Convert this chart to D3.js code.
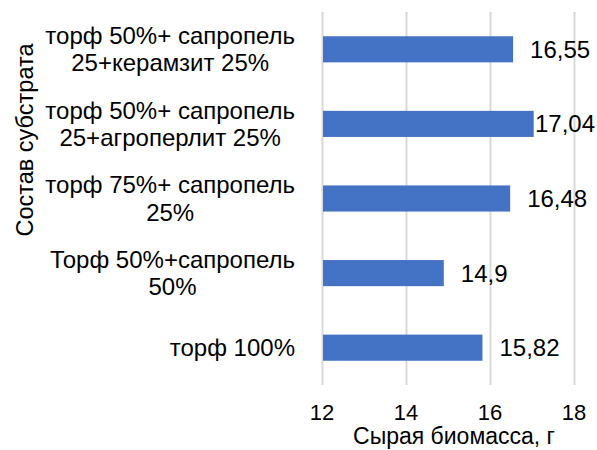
<!DOCTYPE html>
<html>
<head>
<meta charset="utf-8">
<script src="https://cdn.jsdelivr.net/npm/d3@7"></script>
<style>
  body { margin: 0; background: #fff; }
  svg { display: block; font-family: "Liberation Sans", Arial, sans-serif; }
</style>
</head>
<body>
<svg id="chart" width="597" height="450"></svg>
<script>
// categories top to bottom, each label split into lines
const categories = [
  ["торф 50%+ сапропель", "25+керамзит 25%"],
  ["торф 50%+ сапропель", "25+агроперлит 25%"],
  ["торф 75%+ сапропель", "25%"],
  ["Торф 50%+сапропель", "50%"],
  ["торф 100%"]
];
const values = [16.55, 17.04, 16.48, 14.9, 15.82];
const valueLabels = ["16,55", "17,04", "16,48", "14,9", "15,82"];
const xTicks = [12, 14, 16, 18];
const xTitle = "Сырая биомасса, г";
const yTitle = "Состав субстрата";

const svg = d3.select("#chart");
const W = 597;
const plotLeft = 322, plotRight = 574, plotTop = 12, plotBottom = 385;

const x = d3.scaleLinear().domain([12, 18]).range([plotLeft, plotRight]);
const y = d3.scaleBand()
  .domain(d3.range(categories.length))
  .range([plotTop, plotBottom])
  .paddingInner(0.65)
  .paddingOuter(0.325);

// gridlines
svg.append("g")
  .attr("transform", "translate(0," + plotBottom + ")")
  .call(d3.axisBottom(x).tickValues(xTicks).tickSize(-(plotBottom - plotTop)).tickFormat(""))
  .call(g => g.select(".domain").remove())
  .call(g => g.selectAll("line").attr("stroke", "#d9d9d9").attr("stroke-width", 2));

// tick labels
svg.append("g")
  .selectAll("text")
  .data(xTicks)
  .enter()
  .append("text")
  .attr("x", d => x(d))
  .attr("y", 420)
  .attr("text-anchor", "middle")
  .attr("font-size", 22)
  .attr("fill", "#000")
  .text(d => d);

// bars
svg.append("g")
  .selectAll("rect")
  .data(values)
  .enter()
  .append("rect")
  .attr("x", x(12) + 1)
  .attr("y", (d, i) => y(i))
  .attr("width", d => x(d) - x(12) - 1)
  .attr("height", y.bandwidth())
  .attr("fill", "#4472c4");

// value labels
svg.append("g")
  .selectAll("text")
  .data(values)
  .enter()
  .append("text")
  .attr("y", (d, i) => y(i) + y.bandwidth() / 2)
  .attr("dy", "0.35em")
  .attr("font-size", 24)
  .attr("fill", "#000")
  .text((d, i) => valueLabels[i])
  .attr("x", function(d) {
    const w = this.getComputedTextLength();
    return Math.min(x(d) + 17, W - 2 - w);
  });

// category labels, lines centred, block right-aligned
const lineH = 27.5;
categories.forEach((lines, i) => {
  const g = svg.append("g");
  const cy = y(i) + y.bandwidth() / 2;
  const texts = lines.map((s, j) => g.append("text")
    .attr("font-size", 24)
    .attr("fill", "#000")
    .attr("text-anchor", "middle")
    .attr("y", cy + (j - (lines.length - 1) / 2) * lineH)
    .attr("dy", "0.35em")
    .text(s));
  const maxW = d3.max(texts, t => t.node().getComputedTextLength());
  const cx = 295 - maxW / 2;
  texts.forEach(t => t.attr("x", cx));
});

// axis titles
svg.append("text")
  .attr("x", (plotLeft + plotRight) / 2 + 6)
  .attr("y", 444)
  .attr("text-anchor", "middle")
  .attr("font-size", 23)
  .attr("fill", "#000")
  .text(xTitle);

svg.append("text")
  .attr("transform", "translate(33,140) rotate(-90)")
  .attr("text-anchor", "middle")
  .attr("font-size", 23.5)
  .attr("fill", "#000")
  .text(yTitle);
</script>
</body>
</html>
